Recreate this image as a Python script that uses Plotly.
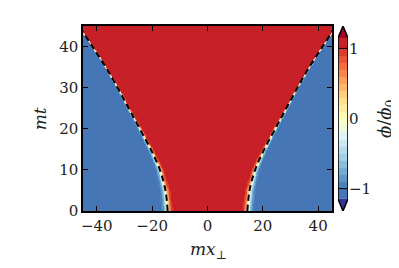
import numpy as np
import plotly.graph_objects as go
from plotly.colors import sample_colorscale

# wall position (symmetric in x)
t_wall = [0, 5, 10, 15, 20, 25, 30, 35, 40, 45]
x_wall = [14.4, 15.2, 17.2, 20.5, 24.5, 28.5, 32.5, 36.8, 41.6, 46.5]
# apparent wall thickness (wide at start, contracted later)
w_wall = [1.2, 1.1, 0.85, 0.65, 0.5, 0.4, 0.35, 0.3, 0.28, 0.26]

x_ticks = [-40, -20, 0, 20, 40]
t_ticks = [0, 10, 20, 30, 40]
cb_ticks = [-1, 0, 1]

# contour levels of the filled plot
levels = [-1.15] + [round(v, 2) for v in np.arange(-1.0, 1.001, 0.1)] + [1.15]
mids = [(a + b) / 2 for a, b in zip(levels[:-1], levels[1:])]

zmin, zmax = levels[0], levels[-1]
band_cols = []
for m in mids:
    if m > 1:
        band_cols.append("rgb(200,32,40)")
    elif m < -1:
        band_cols.append("rgb(70,118,182)")
    else:
        band_cols.append(sample_colorscale("RdYlBu_r", [0.1 + 0.8 * (m + 1) / 2])[0])

cs = []
for i, c in enumerate(band_cols):
    cs.append([(levels[i] - zmin) / (zmax - zmin), c])
    cs.append([(levels[i + 1] - zmin) / (zmax - zmin), c])
cs[0][0] = 0.0
cs[-1][0] = 1.0

# field built from the wall table
x = np.linspace(-45, 45, 361)
t = np.linspace(0, 45, 181)
X, T = np.meshgrid(x, t)
xw = np.interp(T, t_wall, x_wall)
ww = np.interp(T, t_wall, w_wall)
u = np.abs(X) - xw
phi = -1.1 * np.tanh(u / np.where(u > 0, 1.3 * ww, ww))

font = dict(family="DejaVu Serif", size=15, color="#222")
title_font = dict(family="DejaVu Serif", size=17, color="#222")

fig = go.Figure()
fig.add_trace(go.Heatmap(x=x, y=t, z=phi, colorscale=cs, zmin=zmin, zmax=zmax,
                         showscale=False, zsmooth=False, hoverinfo="skip"))
for s in [-1, 1]:
    fig.add_trace(go.Scatter(x=[s * v for v in x_wall], y=t_wall, mode="lines",
                             line=dict(color="black", width=2, dash="6px,4px", shape="spline"),
                             showlegend=False, hoverinfo="skip"))

# hand-made colorbar with extension triangles
fig.add_trace(go.Heatmap(x=[0, 1], y=levels, z=[[m] for m in mids], colorscale=cs,
                         zmin=zmin, zmax=zmax, showscale=False, xaxis="x2", yaxis="y2",
                         hoverinfo="skip"))
shapes = [
    dict(type="path", xref="x2", yref="y2", path="M 0,1.15 L 1,1.15 L 0.5,1.32 Z",
         fillcolor="rgb(165,0,38)", line=dict(width=0)),
    dict(type="path", xref="x2", yref="y2", path="M 0,-1.15 L 1,-1.15 L 0.5,-1.32 Z",
         fillcolor="rgb(49,54,149)", line=dict(width=0)),
    dict(type="path", xref="x2", yref="y2",
         path="M 0,-1.15 L 0,1.15 L 0.5,1.32 L 1,1.15 L 1,-1.15 L 0.5,-1.32 Z",
         line=dict(color="black", width=1.5)),
]
for v in [-1, 1]:
    shapes.append(dict(type="line", xref="x2", yref="y2", x0=0, x1=1, y0=v, y1=v,
                       line=dict(color="black", width=1)))

axis_common = dict(ticks="inside", ticklen=5, tickwidth=1, tickcolor="black",
                   showline=True, linecolor="black", linewidth=1.5, mirror="ticks",
                   showgrid=False, zeroline=False, tickfont=font, automargin=False)

# page adds ~8px body margin, so margins are pulled in by that much
fig.update_layout(
    width=399, height=268,
    margin=dict(l=75, r=48, t=18, b=65),
    paper_bgcolor="white", plot_bgcolor="white",
    showlegend=False,
    shapes=shapes,
    xaxis=dict(domain=[0, 249 / 276], range=[-45, 45], tickvals=x_ticks, **axis_common),
    yaxis=dict(range=[0, 45], tickvals=t_ticks, **axis_common),
    xaxis2=dict(domain=[0.924, 0.960], anchor="y2", range=[0, 1], visible=False,
                automargin=False),
    yaxis2=dict(anchor="x2", side="right", range=[-1.32, 1.32], tickvals=cb_ticks,
                showgrid=False, zeroline=False, showline=False, ticks="", tickfont=font,
                automargin=False),
    annotations=[
        dict(text="<i>mt</i>", x=-0.155, y=0.497, xref="paper", yref="paper",
             xanchor="center", yanchor="middle",
             showarrow=False, textangle=-90, font=title_font),
        dict(text="<i>mx</i><sub>⊥</sub>", x=0.453, y=-0.215, xref="paper", yref="paper",
             xanchor="center", yanchor="middle", showarrow=False, font=title_font),
        dict(text="<i>ϕ</i>/<i>ϕ</i><sub>0</sub>", x=1.098, y=0.497, xref="paper", yref="paper",
             xanchor="center", yanchor="middle",
             showarrow=False, textangle=-90, font=dict(family="DejaVu Serif", size=18, color="#222")),
    ],
)

fig.write_html("out.html")
